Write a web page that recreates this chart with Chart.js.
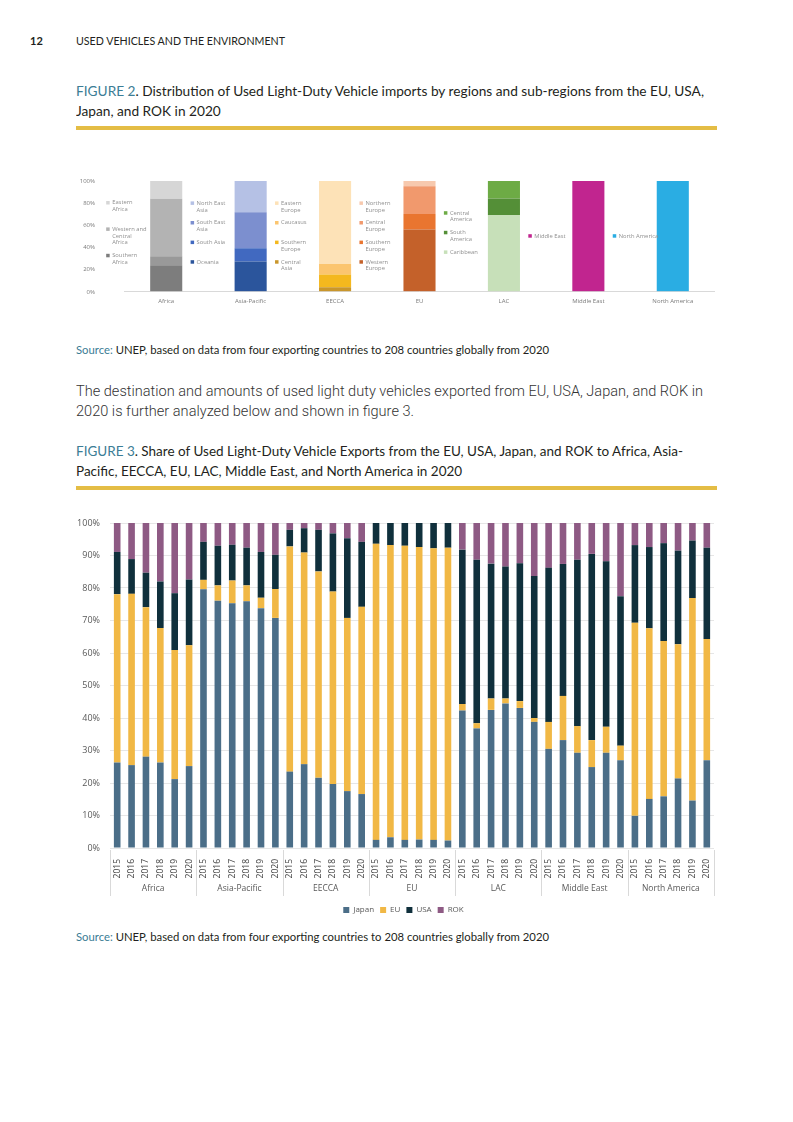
<!DOCTYPE html>
<html>
<head>
<meta charset="utf-8">
<script src="https://cdn.jsdelivr.net/npm/chart.js@4.4.1/dist/chart.umd.min.js"></script>
<style>
  body { margin: 0; width: 793px; height: 1122px; background: #fff; position: relative; overflow: hidden; color: #231f20; font-family: Lato, "Noto Sans", sans-serif; }
  .blk { position: absolute; left: 76px; }
  .ln { white-space: nowrap; width: max-content; transform-origin: 0 50%; }
  .hdr { font-size: 11px; line-height: 14px; top: 34px; }
  .pageno { position: absolute; left: 30px; top: 34px; font-size: 11px; line-height: 14px; font-weight: bold; }
  .title { font-size: 14px; line-height: 20px; }
  .fig { color: #3b7d95; }
  .src { font-size: 10.5px; line-height: 14px; }
  .para { font-family: Roboto, sans-serif; font-weight: 300; font-size: 15px; line-height: 20px; color: #333; }
  .rule { position: absolute; left: 76px; width: 641px; height: 4px; background: #e4bd45; }
  .chart { position: absolute; }
</style>
</head>
<body>
<div class="pageno">12</div>
<div class="blk hdr"><div class="ln" data-w="209">USED VEHICLES AND THE ENVIRONMENT</div></div>

<div class="blk title" style="top:81px">
  <div class="ln" data-w="628"><span class="fig">FIGURE 2</span>. Distribution of Used Light-Duty Vehicle imports by regions and sub-regions from the EU, USA,</div>
  <div class="ln">Japan, and ROK in 2020</div>
</div>
<div class="rule" style="top:126px"></div>

<div class="chart" style="left:60px; top:168px; width:660px; height:143px"><canvas id="fig2"></canvas></div>

<div class="blk src" style="top:343px"><div class="ln" data-w="473"><span class="fig">Source:</span> UNEP, based on data from four exporting countries to 208 countries globally from 2020</div></div>

<div class="blk para" style="top:381px">
  <div class="ln" data-w="627">The destination and amounts of used light duty vehicles exported from EU, USA, Japan, and ROK in</div>
  <div class="ln">2020 is further analyzed below and shown in figure 3.</div>
</div>

<div class="blk title" style="top:441px">
  <div class="ln" data-w="607"><span class="fig">FIGURE 3</span>. Share of Used Light-Duty Vehicle Exports from the EU, USA, Japan, and ROK to Africa, Asia-</div>
  <div class="ln">Pacific, EECCA, EU, LAC, Middle East, and North America in 2020</div>
</div>
<div class="rule" style="top:486px"></div>

<div class="chart" style="left:60px; top:510px; width:687px; height:414px"><canvas id="fig3"></canvas></div>

<div class="blk src" style="top:930px"><div class="ln" data-w="473"><span class="fig">Source:</span> UNEP, based on data from four exporting countries to 208 countries globally from 2020</div></div>

<script>
// ---- shared categories
const regions = ['Africa', 'Asia-Pacific', 'EECCA', 'EU', 'LAC', 'Middle East', 'North America'];
const years = ['2015', '2016', '2017', '2018', '2019', '2020'];
const exporters = ['Japan', 'EU', 'USA', 'ROK'];

// ---- FIGURE 2: sub-region shares of 2020 imports (%), listed from bottom of bar to top
const africaSub = ['Southern Africa', '', 'Western and Central Africa', 'Eastern Africa'];
const africaPct = [24, 8, 52, 16];
const asiaSub = ['Oceania', 'South Asia', 'South East Asia', 'North East Asia'];
const asiaPct = [27.3, 12, 32.5, 28.2];
const eeccaSub = ['Central Asia', 'Southern Europe', 'Caucasus', 'Eastern Europe'];
const eeccaPct = [4.2, 11.4, 9.4, 75];
const euSub = ['Western Europe', 'Southern Europe', 'Central Europe', 'Northern Europe'];
const euPct = [56.2, 14.1, 24.9, 4.8];
const lacSub = ['Caribbean', 'South America', 'Central America'];
const lacPct = [69.4, 14.7, 15.9];
const meSub = ['Middle East'];
const mePct = [100];
const naSub = ['North America'];
const naPct = [100];

// ---- FIGURE 3: share of exports (%), six years per region in the order of `regions`
const japanShare = [
  26.3, 25.5, 28.1, 26.3, 21.2, 25.2,
  79.6, 76.1, 75.3, 75.9, 73.8, 70.8,
  23.5, 25.8, 21.6, 19.7, 17.5, 16.6,
  2.5, 3.3, 2.5, 2.6, 2.5, 2.3,
  42.3, 36.8, 42.5, 44.5, 43.1, 38.8,
  30.5, 33.2, 29.3, 24.9, 29.3, 27.0,
  9.9, 15.1, 15.9, 21.4, 14.6, 27.0
];
const euShare = [
  51.8, 52.7, 46.0, 41.4, 39.7, 37.2,
  2.9, 4.7, 7.0, 4.9, 3.2, 8.9,
  69.3, 65.1, 63.5, 59.2, 53.3, 57.6,
  91.1, 89.9, 90.5, 90.0, 89.7, 90.1,
  2.0, 1.6, 3.5, 1.5, 2.1, 1.2,
  8.3, 13.6, 8.2, 8.3, 8.0, 4.5,
  59.4, 52.5, 47.8, 41.3, 62.3, 37.3
];
const usaShare = [
  13.0, 10.7, 10.6, 14.3, 17.5, 20.2,
  11.7, 12.2, 11.0, 11.6, 14.1, 10.5,
  5.1, 7.5, 12.8, 17.9, 24.5, 20.0,
  6.4, 6.8, 7.0, 7.4, 7.8, 7.6,
  47.5, 50.3, 41.5, 40.6, 42.4, 43.7,
  47.4, 40.6, 51.2, 57.3, 50.9, 46.0,
  23.9, 25.0, 30.1, 28.8, 17.7, 28.1
];
const rokShare = [
  8.9, 11.1, 15.3, 18.0, 21.6, 17.4,
  5.8, 7.0, 6.7, 7.6, 8.9, 9.8,
  2.1, 1.6, 2.1, 3.2, 4.7, 5.8,
  0, 0, 0, 0, 0, 0,
  8.2, 11.3, 12.5, 13.4, 12.4, 16.3,
  13.8, 12.6, 11.3, 9.5, 11.8, 22.5,
  6.8, 7.4, 6.2, 8.5, 5.4, 7.6
];

// ---- styles (wrap = width of each little legend box)
const gray = '#595959';
const fig2Groups = [
  { names: africaSub, pct: africaPct, wrap: 35, colors: ['#7d7d7d', '#999999', '#b3b3b3', '#d6d6d6'] },
  { names: asiaSub, pct: asiaPct, wrap: 31, colors: ['#2b559c', '#4169c0', '#7c8fcf', '#b5c1e5'] },
  { names: eeccaSub, pct: eeccaPct, wrap: 27, colors: ['#c9962b', '#f4b81e', '#fbc56f', '#fde2b7'] },
  { names: euSub, pct: euPct, wrap: 31, colors: ['#c4612a', '#e97530', '#f1996d', '#f7c9ae'] },
  { names: lacSub, pct: lacPct, wrap: 31, colors: ['#c7e0b9', '#548f37', '#6dab45'] },
  { names: meSub, pct: mePct, wrap: 60, colors: ['#c1258f'] },
  { names: naSub, pct: naPct, wrap: 60, colors: ['#2aade3'] }
];
const exporterColors = ['#4b6e88', '#f1b845', '#10303c', '#8e5a84'];

// keeps tick padding from also pushing the plot down
function noVerticalPadding(s) {
  s.paddingTop = 0;
  s.paddingBottom = 0;
}

// ---- FIGURE 2 chart
const fig2Datasets = [];
fig2Groups.forEach((grp, i) => {
  grp.names.forEach((name, k) => {
    fig2Datasets.push({
      label: name,
      data: regions.map((r, j) => (j === i ? grp.pct[k] : null)),
      backgroundColor: grp.colors[k],
      barPercentage: 0.38,
      categoryPercentage: 1
    });
  });
});

function wrapText(ctx, text, maxW) {
  const words = text.split(' ');
  const lines = [];
  let cur = '';
  words.forEach(w => {
    const test = cur ? cur + ' ' + w : w;
    if (cur && ctx.measureText(test).width > maxW) {
      lines.push(cur);
      cur = w;
    } else {
      cur = test;
    }
  });
  if (cur) lines.push(cur);
  return lines;
}

// legend next to each bar, like the original
const subLegendPlugin = {
  id: 'subLegend',
  afterDraw(chart) {
    const ctx = chart.ctx;
    const area = chart.chartArea;
    ctx.save();
    ctx.font = '5.8px "Open Sans"';
    ctx.textBaseline = 'middle';
    regions.forEach((r, i) => {
      const items = [];
      chart.data.datasets.forEach((ds, d) => {
        if (ds.data[i] != null && ds.label) {
          items.unshift({ label: ds.label, color: ds.backgroundColor, bar: chart.getDatasetMeta(d).data[i] });
        }
      });
      if (!items.length) return;
      const bar = items[0].bar;
      const left = bar.x - bar.width / 2 - 44;
      const lines = items.map(it => wrapText(ctx, it.label, fig2Groups[i].wrap));
      const maxLines = Math.max(...lines.map(l => l.length));
      const step = maxLines * 6.8 + 6;
      let y = (area.top + area.bottom) / 2 - step * items.length / 2 + 6;
      items.forEach((it, k) => {
        ctx.fillStyle = it.color;
        ctx.fillRect(left, y - 1.8, 3.5, 3.5);
        ctx.fillStyle = '#8f8f8f';
        lines[k].forEach((line, l) => ctx.fillText(line, left + 6, y + l * 6.8));
        y += step;
      });
    });
    ctx.restore();
  }
};

new Chart(document.getElementById('fig2'), {
  type: 'bar',
  data: { labels: regions, datasets: fig2Datasets },
  options: {
    responsive: true,
    maintainAspectRatio: false,
    animation: false,
    layout: { padding: { top: 13, right: 5, left: 0, bottom: 0 } },
    plugins: { legend: { display: false }, tooltip: { enabled: false } },
    scales: {
      x: {
        stacked: true,
        grid: { display: false, drawTicks: false },
        border: { display: false },
        ticks: { color: '#7a7a7a', font: { family: 'Open Sans', size: 6 }, padding: 6 }
      },
      y: {
        stacked: true,
        min: 0,
        max: 100,
        afterFit: s => { s.width = 64; noVerticalPadding(s); },
        grid: { drawTicks: false, color: c => (c.tick.value === 0 ? '#d9d9d9' : 'rgba(0,0,0,0)') },
        border: { display: false },
        ticks: { stepSize: 20, padding: 29, color: '#7a7a7a', font: { family: 'Open Sans', size: 6 }, callback: v => v + '%' }
      }
    }
  },
  plugins: [subLegendPlugin]
});

// ---- FIGURE 3 chart
const yearLabels = regions.flatMap(() => years);
const fig3Series = [japanShare, euShare, usaShare, rokShare];

// region names and separators under the year labels
const groupAxisPlugin = {
  id: 'groupAxis',
  afterDraw(chart) {
    const ctx = chart.ctx;
    const x = chart.scales.x;
    const area = chart.chartArea;
    const step = x.getPixelForValue(1) - x.getPixelForValue(0);
    const top = area.bottom + 2;
    const bottom = area.bottom + 48;
    ctx.save();
    ctx.strokeStyle = '#d9d9d9';
    ctx.lineWidth = 1;
    ctx.fillStyle = gray;
    ctx.font = '8.5px "Open Sans"';
    ctx.textAlign = 'center';
    ctx.textBaseline = 'middle';
    regions.forEach((r, g) => {
      const left = x.getPixelForValue(g * years.length) - step / 2;
      const right = x.getPixelForValue((g + 1) * years.length - 1) + step / 2;
      ctx.beginPath();
      ctx.moveTo(Math.round(left) + 0.5, top);
      ctx.lineTo(Math.round(left) + 0.5, bottom);
      if (g === regions.length - 1) {
        ctx.moveTo(Math.round(right) + 0.5, top);
        ctx.lineTo(Math.round(right) + 0.5, bottom);
      }
      ctx.stroke();
      ctx.fillText(r, (left + right) / 2, area.bottom + 41);
    });
    ctx.restore();
  }
};

new Chart(document.getElementById('fig3'), {
  type: 'bar',
  data: {
    labels: yearLabels,
    datasets: exporters.map((name, i) => ({
      label: name,
      data: fig3Series[i],
      backgroundColor: exporterColors[i],
      barPercentage: 0.46,
      categoryPercentage: 1
    }))
  },
  options: {
    responsive: true,
    maintainAspectRatio: false,
    animation: false,
    layout: { padding: { top: 13, right: 0, left: 0, bottom: 0 } },
    plugins: {
      tooltip: { enabled: false },
      legend: {
        position: 'bottom',
        labels: { boxWidth: 6, boxHeight: 6, padding: 6, color: gray, font: { family: 'Open Sans', size: 8 } }
      }
    },
    scales: {
      x: {
        stacked: true,
        afterFit: s => { s.height = 52; },
        grid: { display: false },
        border: { display: false },
        ticks: { autoSkip: false, minRotation: 90, maxRotation: 90, padding: 3, color: '#404040', font: { family: 'Open Sans', size: 8.5 } }
      },
      y: {
        stacked: true,
        min: 0,
        max: 100,
        afterFit: s => { s.width = 50; noVerticalPadding(s); },
        grid: { drawTicks: false, color: '#e6e6e6' },
        border: { display: false },
        ticks: { stepSize: 10, padding: 10, color: gray, font: { family: 'Open Sans', size: 9 }, callback: v => v + '%' }
      },
      // empty right-hand strip so the legend centres where the original one sits
      yPad: {
        position: 'right',
        afterFit: s => { s.width = 33; noVerticalPadding(s); },
        grid: { display: false },
        border: { display: false },
        ticks: { display: false }
      }
    }
  },
  plugins: [groupAxisPlugin]
});

// squeeze the text lines to the widths of the narrow print font
document.fonts.ready.then(() => {
  document.querySelectorAll('[data-w]').forEach(el => {
    const k = +el.dataset.w / el.getBoundingClientRect().width;
    el.parentNode.querySelectorAll('.ln').forEach(l => { l.style.transform = 'scaleX(' + k + ')'; });
  });
});
</script>
</body>
</html>
